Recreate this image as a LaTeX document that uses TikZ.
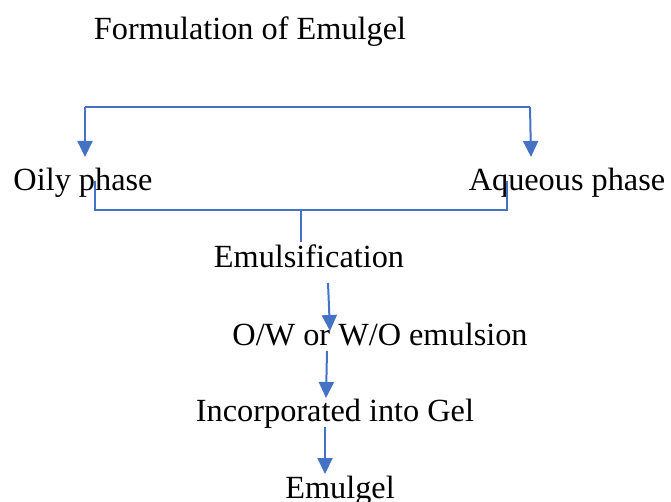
\documentclass[tikz,border=0pt]{standalone}
\usepackage{fontspec}
\setmainfont{Liberation Serif}
\usetikzlibrary{arrows.meta}
\definecolor{oblue}{HTML}{4472C4}
\tikzset{
  lbl/.style={anchor=base, inner sep=0pt, font=\fontsize{32.3}{40}\selectfont},
  arr/.style={draw=oblue, line width=2pt, -{Triangle[width=15pt,length=16pt]}},
  brk/.style={draw=oblue, line width=1.4pt}
}
\begin{document}
\begin{tikzpicture}[x=1pt,y=-1pt]
\useasboundingbox (0,0) rectangle (671,502);
\node[lbl] (title) at (250,40) {Formulation of Emulgel};
\node[lbl] (oily) at (83,191) {Oily phase};
\node[lbl] (aq) at (567,191) {Aqueous phase};
\node[lbl] (emul) at (309,268) {Emulsification};
\node[lbl] (ow) at (380,345) {O/W or W/O emulsion};
\node[lbl] (inc) at (335,421) {Incorporated into Gel};
\node[lbl] (eg) at (340,498) {Emulgel};
% top split
\coordinate (tl) at (85,107);
\coordinate (tr) at (530,107);
\coordinate (tlend) at (85,157);
\coordinate (trend) at (531,157);
\draw[brk] (tl) -- (tr);
\draw[arr] (tl) -- (tlend);
\draw[arr] (tr) -- (trend);
% bottom bracket
\coordinate (bl) at (95,181);
\coordinate (br) at (507,181);
\coordinate (bstem) at (301,210);
\coordinate (bstemend) at (301,242);
\draw[brk] (bl) |- (bstem) -| (br);
\draw[brk] (bstem) -- (bstemend);
% chain
\coordinate (a1s) at (328,283);
\coordinate (a1e) at (330,331);
\coordinate (a2s) at (327,351);
\coordinate (a2e) at (326,398);
\coordinate (a3s) at (325,427);
\coordinate (a3e) at (325,474);
\draw[arr] (a1s) -- (a1e);
\draw[arr] (a2s) -- (a2e);
\draw[arr] (a3s) -- (a3e);
\end{tikzpicture}
\end{document}
